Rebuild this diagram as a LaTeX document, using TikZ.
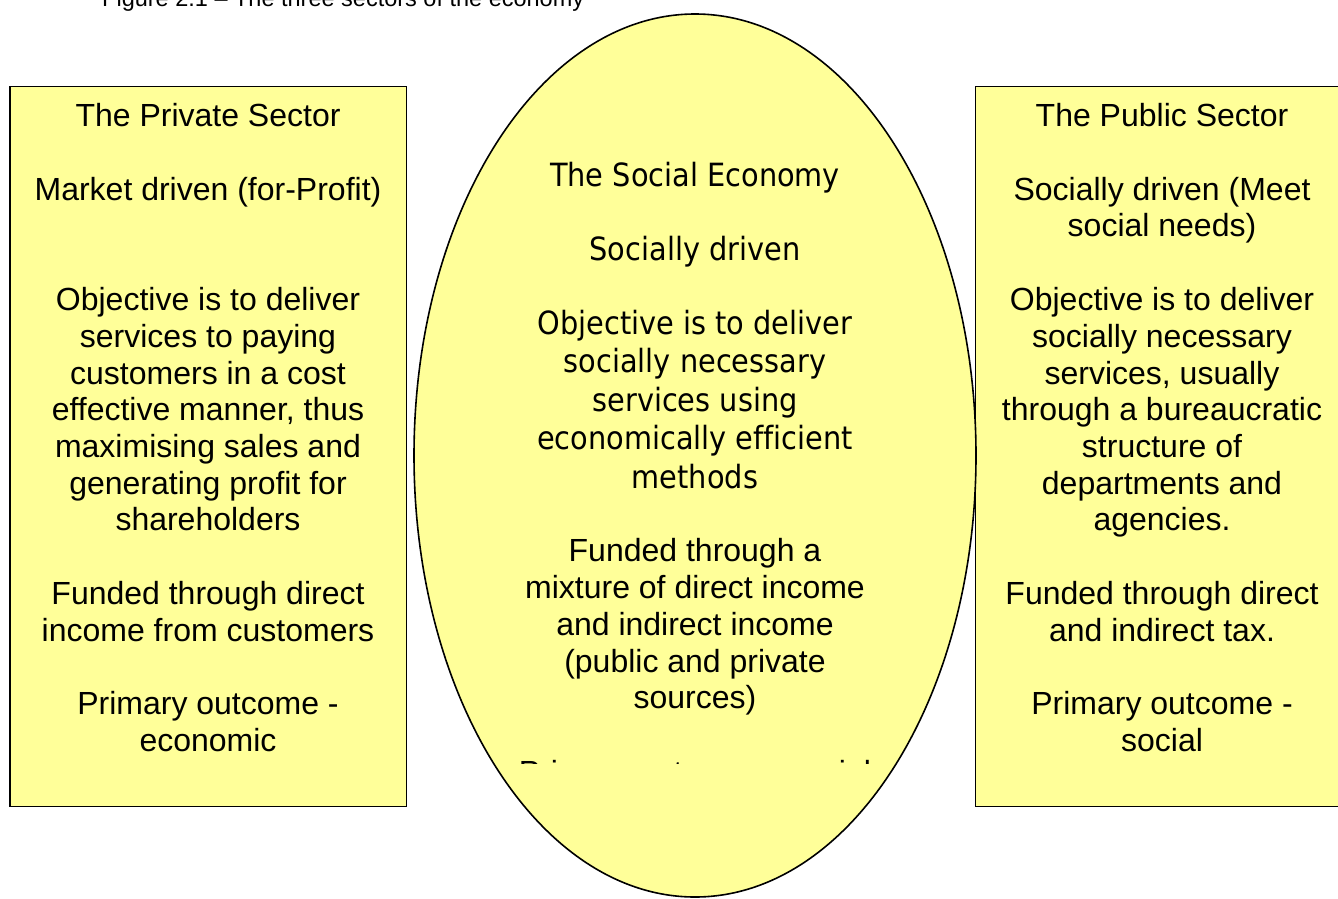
\documentclass[tikz,border=0pt]{standalone}
\usepackage{fontspec}
\setmainfont{Liberation Sans}
% narrow humanist sans for the headings of the middle column
\newfontfamily\narrowsans[FakeStretch=0.9, Ligatures=NoCommon]{DejaVu Sans}
\usetikzlibrary{shapes.geometric}
\definecolor{paleyellow}{HTML}{FFFF99}

\tikzset{
  sectorbox/.style={rectangle, draw=black, line width=1.6pt, fill=paleyellow, inner sep=0pt},
  sectoroval/.style={ellipse, draw=black, line width=1.6pt, fill=paleyellow, inner sep=0pt},
  bodytext/.style={anchor=north, align=center, inner sep=0pt,
    font=\fontsize{32}{36.7}\selectfont},
  headtext/.style={anchor=north, align=center, inner sep=0pt,
    font=\narrowsans\fontsize{32}{38.5}\selectfont},
  captiontext/.style={anchor=base west, inner sep=0pt,
    font=\fontsize{23.5}{28}\selectfont},
}

\begin{document}
\begin{tikzpicture}[x=1pt, y=-1pt]
  \useasboundingbox (0,0) rectangle (1338,898);
  \clip (0,0) rectangle (1338,898);

  % caption
  \node[captiontext] (caption) at (102,6.7) {Figure 2.1 -- The three sectors of the economy};

  % the three sectors
  \node[sectorbox, minimum width=396.5pt, minimum height=720pt] (private) at (208.25,446.5) {};
  \node[sectorbox, minimum width=374.5pt, minimum height=720pt] (public) at (1162.75,446.5) {};
  \node[sectoroval, minimum width=562pt, minimum height=883pt] (social) at (695,455.5) {};

  % private sector text
  \node[bodytext] (pvtitle) at (208,101.0) {\strut The Private Sector};
  \node[bodytext] (pvdriver) at (208,174.3) {\strut Market driven (for-Profit)};
  \node[bodytext] (pvobjective) at (208,284.8) {\strut Objective is to deliver\\services to paying\\customers in a cost\\effective manner, thus\\maximising sales and\\generating profit for\\shareholders};
  \node[bodytext] (pvfunding) at (208,578.8) {\strut Funded through direct\\income from customers};
  \node[bodytext] (pvoutcome) at (208,688.8) {\strut Primary outcome -\\economic};

  % public sector text
  \node[bodytext] (pbtitle) at (1162,101.0) {\strut The Public Sector};
  \node[bodytext] (pbdriver) at (1162,174.3) {\strut Socially driven (Meet\\social needs)};
  \node[bodytext] (pbobjective) at (1162,284.8) {\strut Objective is to deliver\\socially necessary\\services, usually\\through a bureaucratic\\structure of\\departments and\\agencies.};
  \node[bodytext] (pbfunding) at (1162,578.8) {\strut Funded through direct\\and indirect tax.};
  \node[bodytext] (pboutcome) at (1162,688.8) {\strut Primary outcome -\\social};

  % social economy text
  \node[headtext] (sctitle) at (695,159.05) {\strut The Social Economy};
  \node[headtext] (scdriver) at (695,233.05) {\strut Socially driven};
  \node[headtext] (scobjective) at (695,307.05) {\strut Objective is to deliver\\socially necessary\\services using\\economically efficient\\methods};
  \node[bodytext] (scfunding) at (695,536.0) {\strut Funded through a\\mixture of direct income\\and indirect income\\(public and private\\sources)};
  \begin{scope}
    \clip (0,0) rectangle (1338,763);
    \node[bodytext] (scoutcome) at (695,757.8) {\strut Primary outcome - social};
  \end{scope}
\end{tikzpicture}
\end{document}
